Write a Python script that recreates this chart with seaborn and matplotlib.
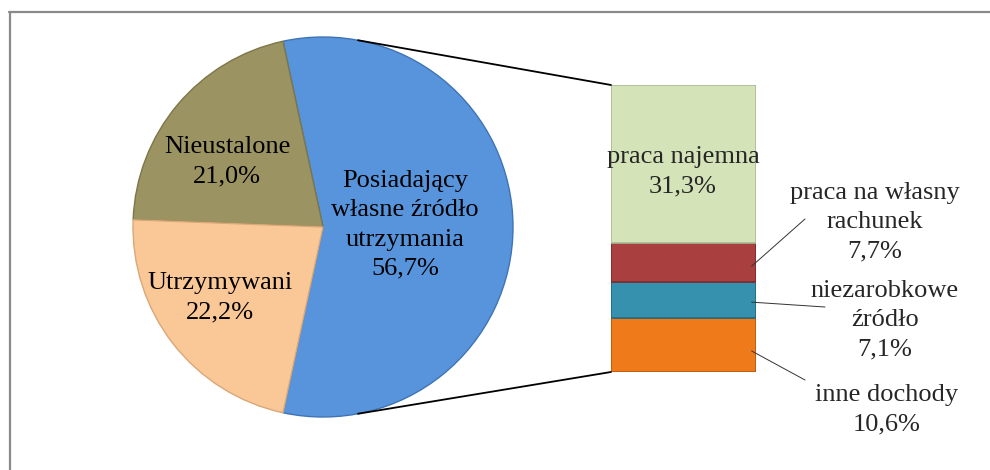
import matplotlib
matplotlib.use("Agg")
import matplotlib.pyplot as plt
import seaborn as sns
from matplotlib.patches import ConnectionPatch
from matplotlib.lines import Line2D
import numpy as np

# ---- data ----
pie_labels = ["Posiadający\nwłasne źródło\nutrzymania", "Nieustalone", "Utrzymywani"]
pie_values = [56.7, 21.0, 22.2]
pie_colors = ["#5794DC", "#9C9362", "#FAC796"]
pie_edges = ["#3f74b4", "#7d7648", "#d9a878"]

bar_labels = ["inne dochody", "niezarobkowe\nźródło", "praca na własny\nrachunek", "praca najemna"]
bar_values = [10.6, 7.1, 7.7, 31.3]
bar_colors = ["#EF7A1A", "#3591AE", "#AA3F3F", "#D5E3B9"]
bar_edges = ["#b85a10", "#246a82", "#7d2c2c", "#aab894"]

def fmt(v):
    return f"{v:.1f}".replace(".", ",") + "%"

sns.set_theme(style="white")
plt.rcParams["font.family"] = ["Liberation Serif", "DejaVu Serif"]

W, H = 990, 470
fig = plt.figure(figsize=(W / 100, H / 100), dpi=100)
fig.patch.set_facecolor("white")

def px_axes(x0, y0, x1, y1):
    return fig.add_axes([x0 / W, (H - y1) / H, (x1 - x0) / W, (y1 - y0) / H])

FS = 19
LS = 1.42

# ---- pie ----
axp = px_axes(133, 37, 513, 417)
total = sum(pie_values)
start = -pie_values[0] / total * 360 / 2
wedges, _ = axp.pie(pie_values, colors=pie_colors, startangle=start, counterclock=True,
                    radius=1.0, wedgeprops=dict(linewidth=1.0))
for w, ec in zip(wedges, pie_edges):
    w.set_edgecolor(ec)
axp.set_xlim(-1, 1)
axp.set_ylim(-1, 1)
axp.set_aspect("equal")
axp.axis("off")

# labels inside pie (figure pixel positions)
pie_text_pos = [(405, 225), (227, 162), (220, 298)]
for lab, v, (x, y) in zip(pie_labels, pie_values, pie_text_pos):
    fig.text(x / W, (H - y) / H, f"{lab}\n{fmt(v)}", ha="center", va="center",
             fontsize=FS, linespacing=LS, color="black")

# ---- bar ----
axb = px_axes(611, 85, 756, 372)
bottom = 0
for v, c, ec in zip(bar_values, bar_colors, bar_edges):
    axb.bar(0, v, bottom=bottom, width=1.0, color=c, edgecolor=ec, linewidth=1.2)
    bottom += v
axb.set_xlim(-0.5, 0.5)
axb.set_ylim(0, sum(bar_values))
axb.axis("off")

# label inside top segment
fig.text(683 / W, (H - 172) / H, f"{bar_labels[3]}\n{fmt(bar_values[3])}", ha="center",
         va="center", fontsize=FS, linespacing=LS)

# outside labels with leader lines
out_specs = [
    (2, (875, 222), 20.9, (805, 219)),
    (1, (885, 320), 13.8, (825, 307)),
    (0, (887, 410), 4.15, (805, 380)),
]
for i, (tx, ty), yv, (ex, ey) in out_specs:
    fig.text(tx / W, (H - ty) / H, f"{bar_labels[i]}\n{fmt(bar_values[i])}", ha="center",
             va="center", fontsize=FS, linespacing=LS)
    axb.annotate("", xy=(0.47, yv), xycoords="data",
                 xytext=(ex / W, (H - ey) / H), textcoords="figure fraction",
                 arrowprops=dict(arrowstyle="-", color="#333333", lw=0.7,
                                 shrinkA=0, shrinkB=0))

# connector lines pie -> bar
ang = np.deg2rad(79.4)
for sgn, yb in [(1, sum(bar_values)), (-1, 0)]:
    con = ConnectionPatch(xyA=(np.cos(ang), sgn * np.sin(ang)), coordsA=axp.transData,
                          xyB=(-0.5, yb), coordsB=axb.transData, color="black", lw=1.3)
    fig.add_artist(con)

# frame (top and left only)
fig.add_artist(Line2D([9 / W, 1], [(H - 12) / H] * 2, transform=fig.transFigure,
                      color="#8a8a8a", lw=1.6))
fig.add_artist(Line2D([9.5 / W] * 2, [0, (H - 12) / H], transform=fig.transFigure,
                      color="#8a8a8a", lw=1.6))

fig.savefig("out.png", dpi=100, facecolor="white")
